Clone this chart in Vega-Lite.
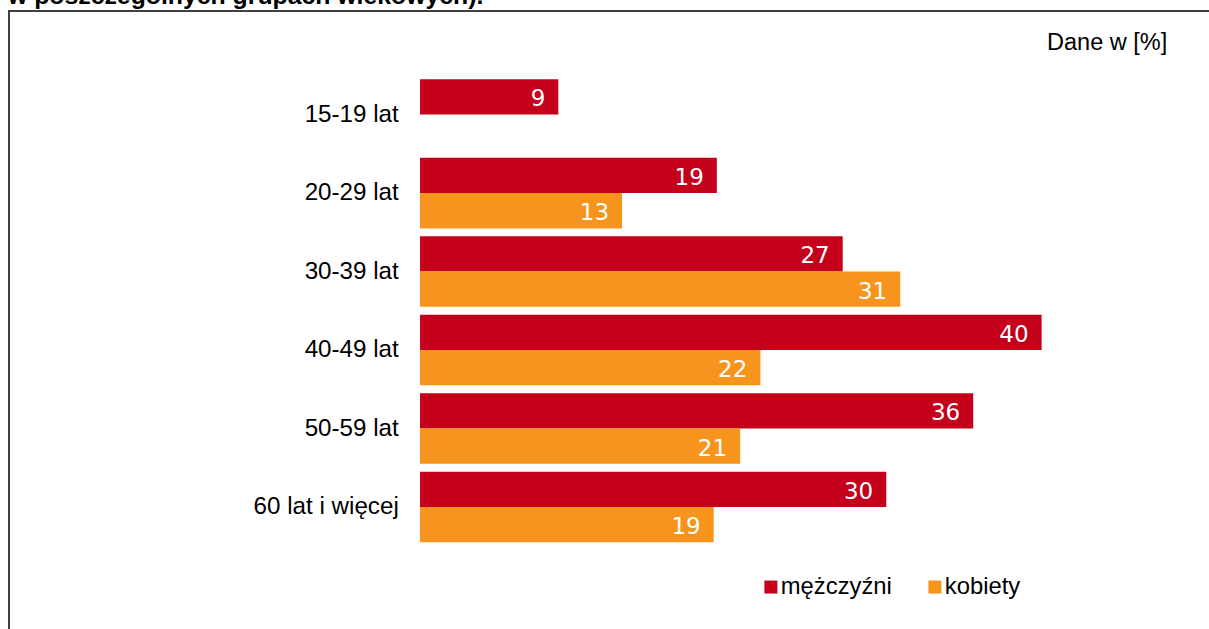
{
  "$schema": "https://vega.github.io/schema/vega-lite/v6.json",
  "autosize": {"type": "none"},
  "padding": {"left": 9, "top": 11, "right": -2, "bottom": -2},
  "width": 1202,
  "height": 620,
  "background": "white",
  "config": {
    "view": {"stroke": "#404040", "strokeWidth": 2},
    "axis": {"grid": false}
  },
  "title": {
    "text": "w poszczególnych grupach wiekowych).",
    "anchor": "start",
    "frame": "group",
    "orient": "top",
    "offset": 0,
    "baseline": "alphabetic",
    "font": "Liberation Sans",
    "fontSize": 24.8,
    "fontWeight": "bold",
    "color": "black",
    "dx": -1,
    "dy": 18
  },
  "data": {
    "values": [
      {"grupa": "15-19 lat", "plec": "mężczyźni", "wartosc": 8.9},
      {"grupa": "20-29 lat", "plec": "mężczyźni", "wartosc": 19.1},
      {"grupa": "20-29 lat", "plec": "kobiety", "wartosc": 13.0},
      {"grupa": "30-39 lat", "plec": "mężczyźni", "wartosc": 27.2},
      {"grupa": "30-39 lat", "plec": "kobiety", "wartosc": 30.9},
      {"grupa": "40-49 lat", "plec": "mężczyźni", "wartosc": 40.0},
      {"grupa": "40-49 lat", "plec": "kobiety", "wartosc": 21.9},
      {"grupa": "50-59 lat", "plec": "mężczyźni", "wartosc": 35.6},
      {"grupa": "50-59 lat", "plec": "kobiety", "wartosc": 20.6},
      {"grupa": "60 lat i więcej", "plec": "mężczyźni", "wartosc": 30.0},
      {"grupa": "60 lat i więcej", "plec": "kobiety", "wartosc": 18.9}
    ]
  },
  "encoding": {
    "y": {
      "field": "grupa",
      "type": "nominal",
      "sort": ["15-19 lat", "20-29 lat", "30-39 lat", "40-49 lat", "50-59 lat", "60 lat i więcej"],
      "scale": {"paddingInner": 0.1, "paddingOuter": 1.0077, "align": 0.435},
      "axis": {
        "title": null,
        "orient": "left",
        "offset": -411,
        "domain": false,
        "ticks": false,
        "labelPadding": 21.7,
        "labelFont": "Liberation Sans",
        "labelFontSize": 24.2,
        "labelColor": "black",
        "labelBaseline": "middle",
        "labelLimit": 0
      }
    },
    "yOffset": {
      "field": "plec",
      "type": "nominal",
      "sort": ["mężczyźni", "kobiety"],
      "scale": {"paddingInner": 0, "paddingOuter": 0}
    },
    "x": {
      "field": "wartosc",
      "type": "quantitative",
      "scale": {"domain": [-26.45, 50.9], "nice": false, "zero": false},
      "axis": {
        "orient": "top",
        "domain": false,
        "ticks": false,
        "labels": false,
        "grid": false,
        "title": "Dane w [%]",
        "titleX": 1157.7,
        "titleY": 38,
        "titleAlign": "right",
        "titleAnchor": null,
        "titleBaseline": "alphabetic",
        "titleFont": "Liberation Sans",
        "titleFontSize": 23.5,
        "titleFontWeight": "normal",
        "titleColor": "black"
      }
    }
  },
  "layer": [
    {
      "mark": {"type": "bar"},
      "encoding": {
        "x2": {"datum": 0},
        "color": {
          "field": "plec",
          "type": "nominal",
          "scale": {"domain": ["mężczyźni", "kobiety"], "range": ["#C5001A", "#F7941D"]},
          "legend": {
            "title": null,
            "orient": "none",
            "legendX": 750,
            "legendY": 564,
            "direction": "horizontal",
            "symbolType": "square",
            "symbolSize": 169,
            "symbolStrokeWidth": 0,
            "labelFont": "Liberation Sans",
            "labelFontSize": 23.8,
            "labelColor": "black",
            "labelOffset": -2,
            "columnPadding": 31,
            "padding": 0,
            "labelLimit": 0
          }
        }
      }
    },
    {
      "mark": {
        "type": "text",
        "align": "right",
        "baseline": "alphabetic",
        "dx": -13,
        "dy": 9.5,
        "font": "DejaVu Sans",
        "fontSize": 23,
        "color": "white"
      },
      "encoding": {
        "text": {"field": "wartosc", "type": "quantitative", "format": ".0f"}
      }
    }
  ]
}
